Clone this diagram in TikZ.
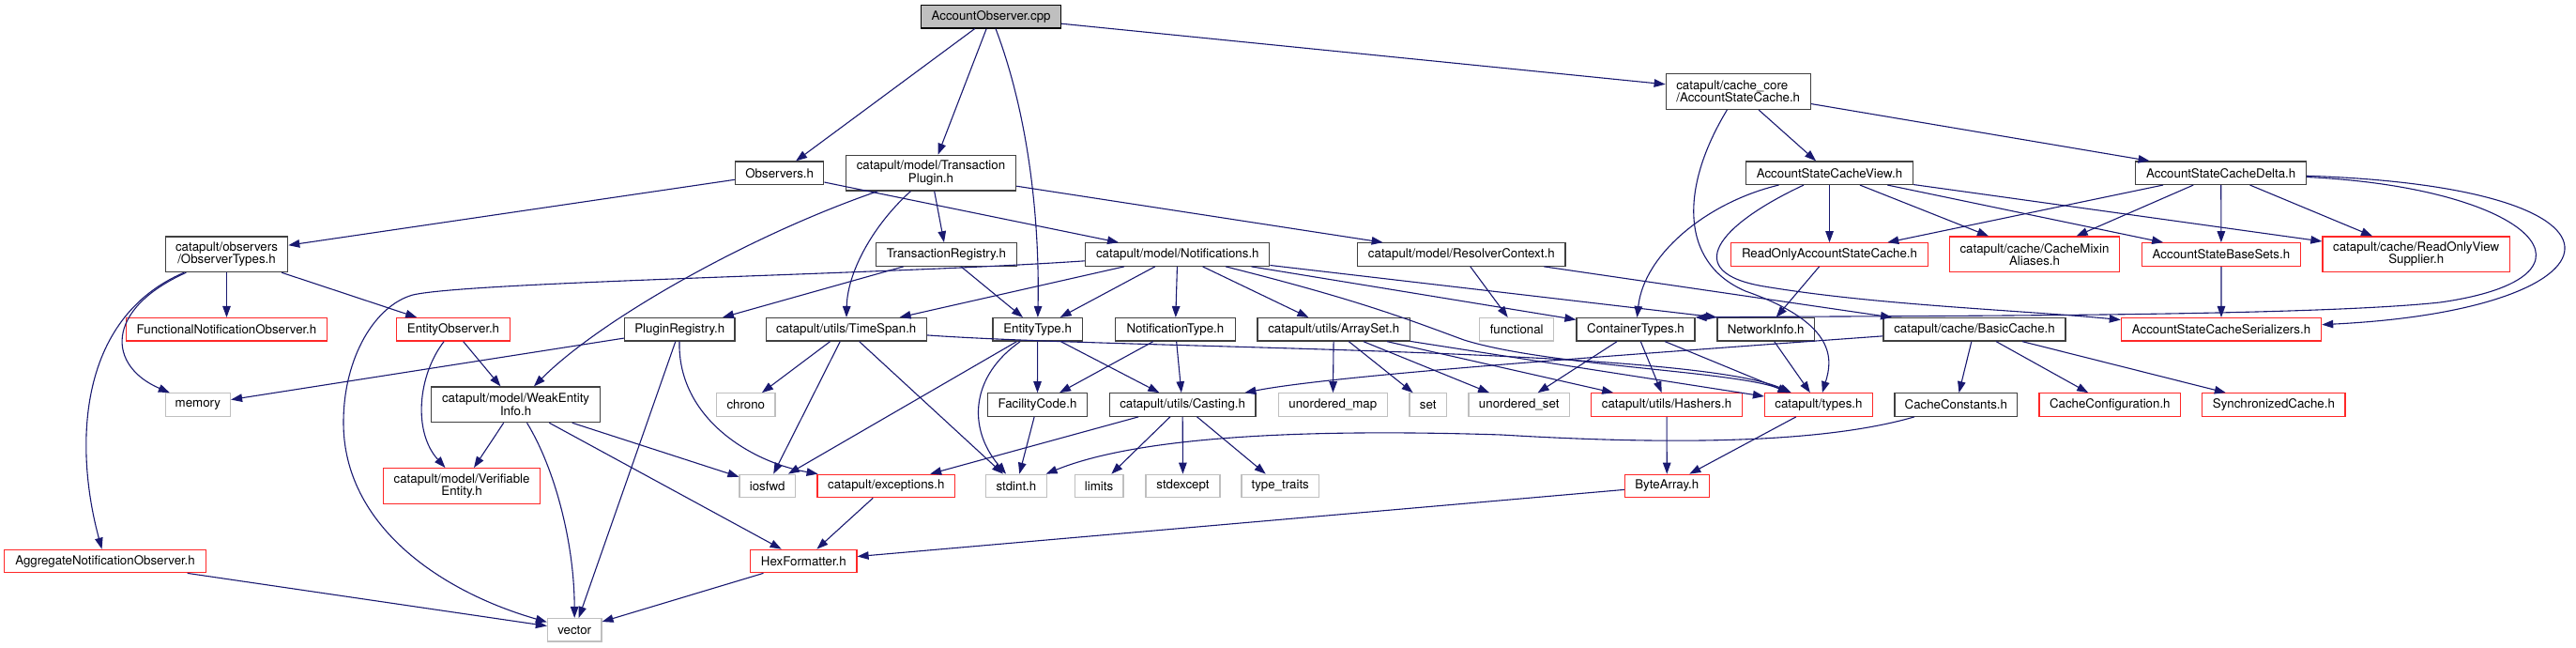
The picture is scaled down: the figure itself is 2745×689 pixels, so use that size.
\documentclass[tikz,border=0pt]{standalone}
\usepackage{fontspec}
\setmainfont{TeX Gyre Heros}
\usetikzlibrary{arrows.meta}
\definecolor{edgec}{RGB}{25,25,112}
\definecolor{dgray}{RGB}{64,64,64}
\definecolor{lgray}{RGB}{191,191,191}
\definecolor{rbord}{RGB}{255,40,40}
\newcommand{\nodefnt}{\fontsize{13.3pt}{13.3pt}\selectfont}
\begin{document}
\begin{tikzpicture}[x=1pt,y=-1pt,
  box/.style={draw=dgray, line width=1.2pt, fill=white, inner sep=0pt, minimum height=24.5pt, align=center, font=\nodefnt},
  redbox/.style={box, draw=rbord},
  sysbox/.style={box, draw=lgray},
  tall/.style={minimum height=37.7pt},
  dep/.style={draw=edgec, line width=1.1pt, -{Triangle[length=12pt,width=8.5pt]}}]
\useasboundingbox (0,0) rectangle (2745,689);
% row 0
\node[box, fill=lgray, draw=black, minimum width=148.6pt] (aoc) at (1056.1,17.7) {AccountObserver.cpp};
% row 1
\node[box, tall, minimum width=154pt, align=left] (asc) at (1852.2,97.5) {catapult/cache\_core\\/AccountStateCache.h};
\node[box, minimum width=94.2pt] (obs) at (830.7,184.3) {Observers.h};
\node[box, tall, minimum width=181.3pt] (tp) at (992,184.2) {catapult/model/Transaction\\Plugin.h};
\node[box, minimum width=178.2pt] (view) at (1949.5,184.2) {AccountStateCacheView.h};
\node[box, minimum width=181.7pt] (delta) at (2366.7,184.2) {AccountStateCacheDelta.h};
% row 2
\node[box, tall, minimum width=130.4pt] (ot) at (241.5,270.8) {catapult/observers\\/ObserverTypes.h};
\node[box, minimum width=149.5pt] (treg) at (1008.4,271) {TransactionRegistry.h};
\node[box, minimum width=196pt] (notif) at (1254.8,271) {catapult/model/Notifications.h};
\node[box, minimum width=221.4pt] (rc) at (1557.3,271) {catapult/model/ResolverContext.h};
\node[redbox, minimum width=210.2pt] (roasc) at (1949.5,271) {ReadOnlyAccountStateCache.h};
\node[redbox, tall, minimum width=180.8pt] (mixin) at (2168,270.8) {catapult/cache/CacheMixin\\Aliases.h};
\node[redbox, minimum width=168.8pt] (basesets) at (2366.9,271) {AccountStateBaseSets.h};
\node[redbox, tall, minimum width=199.6pt] (rovs) at (2574.7,270.8) {catapult/cache/ReadOnlyView\\Supplier.h};
% row 3
\node[redbox, minimum width=214.3pt] (fno) at (241.5,350.8) {FunctionalNotificationObserver.h};
\node[redbox, minimum width=120.5pt] (eo) at (483,350.8) {EntityObserver.h};
\node[box, minimum width=117.5pt] (preg) at (724.3,350.8) {PluginRegistry.h};
\node[box, minimum width=170.9pt] (ts) at (901.7,350.8) {catapult/utils/TimeSpan.h};
\node[box, minimum width=95.1pt] (et) at (1105.6,350.8) {EntityType.h};
\node[box, minimum width=127.7pt] (nt) at (1252.4,350.8) {NotificationType.h};
\node[box, minimum width=162.3pt] (as) at (1421.2,350.8) {catapult/utils/ArraySet.h};
\node[sysbox, minimum width=79pt] (func) at (1616.2,350.8) {functional};
\node[box, minimum width=126pt] (ct) at (1743,350.8) {ContainerTypes.h};
\node[box, minimum width=103.3pt] (ni) at (1881.7,350.8) {NetworkInfo.h};
\node[box, minimum width=194pt] (bc) at (2104,350.8) {catapult/cache/BasicCache.h};
\node[redbox, minimum width=213.3pt] (ser) at (2367,350.8) {AccountStateCacheSerializers.h};
% row 4
\node[sysbox, minimum width=69.2pt] (mem) at (210.9,431) {memory};
\node[box, tall, minimum width=179.5pt] (wei) at (549.6,430.8) {catapult/model/WeakEntity\\Info.h};
\node[sysbox, minimum width=62.5pt] (chrono) at (794.8,431) {chrono};
\node[box, minimum width=106.3pt] (fc) at (1105.5,431) {FacilityCode.h};
\node[box, minimum width=155.8pt] (cast) at (1260.1,431) {catapult/utils/Casting.h};
\node[sysbox, minimum width=116.1pt] (umap) at (1420.3,431) {unordered\_map};
\node[sysbox, minimum width=39.3pt] (set) at (1521.7,431) {set};
\node[sysbox, minimum width=107.6pt] (uset) at (1618.7,431) {unordered\_set};
\node[redbox, minimum width=160.7pt] (hash) at (1776,431) {catapult/utils/Hashers.h};
\node[redbox, minimum width=114.8pt] (types) at (1937.9,431) {catapult/types.h};
\node[box, minimum width=130.5pt] (cc) at (2084.3,431) {CacheConstants.h};
\node[redbox, minimum width=150.5pt] (cconf) at (2248.3,431) {CacheConfiguration.h};
\node[redbox, minimum width=152.2pt] (sync) at (2422.9,431) {SynchronizedCache.h};
% row 5
\node[redbox, tall, minimum width=166.5pt] (ve) at (492.1,517.5) {catapult/model/Verifiable\\Entity.h};
\node[sysbox, minimum width=59.4pt] (iosfwd) at (817.7,517.5) {iosfwd};
\node[redbox, minimum width=146.5pt] (exc) at (944.3,517.5) {catapult/exceptions.h};
\node[sysbox, minimum width=64.8pt] (stdint) at (1082.9,517.5) {stdint.h};
\node[sysbox, minimum width=51.8pt] (limits) at (1171.1,517.5) {limits};
\node[sysbox, minimum width=79pt] (stdexcept) at (1260.5,517.5) {stdexcept};
\node[sysbox, minimum width=82.6pt] (tt) at (1364.2,517.5) {type\_traits};
\node[redbox, minimum width=89.8pt] (ba) at (1776.3,517.5) {ByteArray.h};
% row 6
\node[redbox, minimum width=214.3pt] (agg) at (112,597.5) {AggregateNotificationObserver.h};
\node[redbox, minimum width=113.4pt] (hex) at (856.3,597.5) {HexFormatter.h};
% row 7
\node[sysbox, minimum width=57.5pt] (vector) at (612.2,670.8) {vector};

% edges
\draw[dep] (aoc) -- (obs);
\draw[dep] (aoc) -- (tp);
\draw[dep] (aoc) .. controls (1095,120) and (1108,230) .. (et);
\draw[dep] (aoc) -- (asc);
\draw[dep] (obs) -- (ot);
\draw[dep] (obs) -- (notif);
\draw[dep] (tp) .. controls (800,250) and (640,340) .. (wei);
\draw[dep] (tp) .. controls (930,240) and (903,290) .. (ts);
\draw[dep] (tp) -- (treg);
\draw[dep] (tp) -- (rc);
\draw[dep] (treg) -- (preg);
\draw[dep] (treg) -- (et);
\draw[dep] (notif) .. controls (950,292) and (500,300) .. (440,314) .. controls (400,325) and (366,380) .. (366,450) .. controls (366,560) and (470,630) .. (vector);
\draw[dep] (notif) -- (ts);
\draw[dep] (notif) -- (et);
\draw[dep] (notif) -- (nt);
\draw[dep] (notif) -- (as);
\draw[dep] (notif) -- (ct);
\draw[dep] (notif) -- (ni.north west);
\draw[dep] (notif) .. controls (1450,320) and (1500,340) .. (1560,362) .. controls (1650,390) and (1850,395) .. (types);
\draw[dep] (ot) -- (fno);
\draw[dep] (ot) -- (eo);
\draw[dep] (ot) .. controls (110,330) and (115,390) .. (mem);
\draw[dep] (ot) .. controls (80,340) and (80,480) .. (agg);
\draw[dep] (eo) -- (wei);
\draw[dep] (eo) .. controls (445,400) and (440,460) .. (ve);
\draw[dep] (preg) -- (mem);
\draw[dep] (preg) -- (vector);
\draw[dep] (preg) .. controls (722,445) and (800,492) .. (exc);
\draw[dep] (ts) -- (chrono);
\draw[dep] (ts) -- (iosfwd);
\draw[dep] (ts) -- (stdint);
\draw[dep] (ts) .. controls (1200,372) and (1800,370) .. (types);
\draw[dep] (et) -- (iosfwd);
\draw[dep] (et) .. controls (1035,400) and (1030,455) .. (stdint);
\draw[dep] (et) -- (fc);
\draw[dep] (et) -- (cast);
\draw[dep] (nt) -- (fc);
\draw[dep] (nt) -- (cast);
\draw[dep] (fc) -- (stdint);
\draw[dep] (cast) -- (exc);
\draw[dep] (cast) -- (limits);
\draw[dep] (cast) -- (stdexcept);
\draw[dep] (cast) -- (tt);
\draw[dep] (exc) -- (hex);
\draw[dep] (hex) -- (vector);
\draw[dep] (wei) -- (ve);
\draw[dep] (wei) -- (iosfwd);
\draw[dep] (wei) -- (hex);
\draw[dep] (wei) .. controls (592,500) and (612,580) .. (vector);
\draw[dep] (agg) -- (vector);
\draw[dep] (as) -- (umap);
\draw[dep] (as) -- (set);
\draw[dep] (as) -- (uset);
\draw[dep] (as) -- (hash);
\draw[dep] (as) -- (types);
\draw[dep] (ct) -- (uset);
\draw[dep] (ct) -- (hash);
\draw[dep] (ct) -- (types);
\draw[dep] (ni) -- (types);
\draw[dep] (rc) -- (func);
\draw[dep] (rc) -- (bc);
\draw[dep] (asc) -- (view);
\draw[dep] (asc) -- (delta);
\draw[dep] (asc) .. controls (1790,200) and (1790,280) .. (1860,310) .. controls (1960,345) and (1952,385) .. (types);
\draw[dep] (view) .. controls (1820,215) and (1752,270) .. (ct);
\draw[dep] (view) -- (roasc);
\draw[dep] (view) .. controls (1830,240) and (1790,290) .. (1880,305) .. controls (2000,325) and (2150,330) .. (ser);
\draw[dep] (view) -- (mixin);
\draw[dep] (view) -- (basesets);
\draw[dep] (view) -- (rovs);
\draw[dep] (delta) -- (roasc);
\draw[dep] (delta) -- (mixin);
\draw[dep] (delta) -- (basesets);
\draw[dep] (delta) -- (rovs);
\draw[dep] (delta) .. controls (2840,200) and (2800,330) .. (ser);
\draw[dep] (delta) .. controls (2700,200) and (2790,295) .. (2600,322) .. controls (2450,338) and (2000,336) .. (ct.north east);
\draw[dep] (basesets) -- (ser);
\draw[dep] (roasc) -- (ni);
\draw[dep] (bc) -- (cc);
\draw[dep] (bc) -- (cconf);
\draw[dep] (bc) -- (sync);
\draw[dep] (bc) .. controls (1700,380) and (1420,400) .. (cast);
\draw[dep] (cc) .. controls (1950,470) and (1800,475) .. (1600,463) .. controls (1350,455) and (1200,470) .. (stdint);
\draw[dep] (hash) -- (ba);
\draw[dep] (types) -- (ba);
\draw[dep] (ba) -- (hex);
\end{tikzpicture}
\end{document}
